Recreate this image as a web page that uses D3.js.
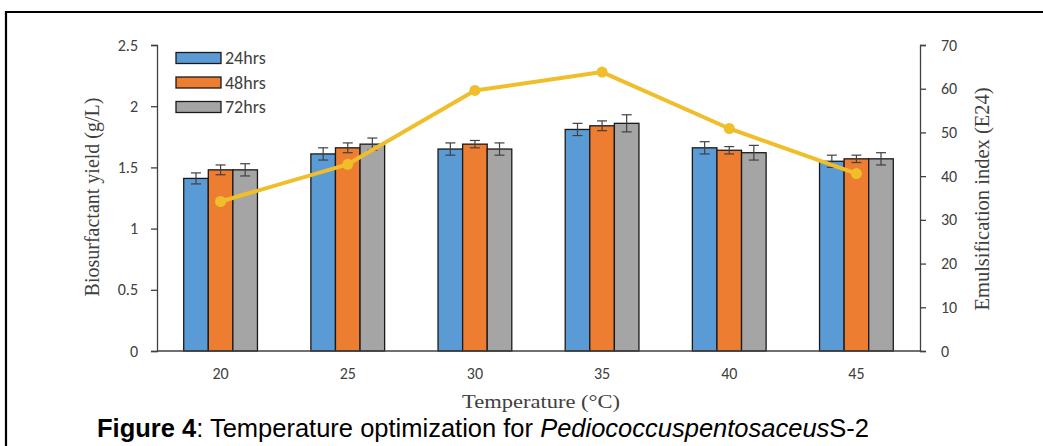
<!DOCTYPE html>
<html><head><meta charset="utf-8">
<script src="https://cdn.jsdelivr.net/npm/d3@7"></script>
<style>html,body{margin:0;padding:0;background:#fff}svg{display:block}</style>
</head><body>
<svg id="c" width="1043" height="446"></svg>
<script>
const categories = ["20","25","30","35","40","45"];
const seriesNames = ["24hrs","48hrs","72hrs"];
const yield24 = [1.41,1.61,1.65,1.81,1.66,1.55];
const yield48 = [1.48,1.66,1.69,1.84,1.64,1.57];
const yield72 = [1.48,1.69,1.65,1.86,1.62,1.57];
const err24 = [0.045,0.05,0.05,0.05,0.05,0.05];
const err48 = [0.04,0.04,0.03,0.04,0.03,0.03];
const err72 = [0.05,0.05,0.05,0.07,0.06,0.05];
const emulsification = [34.2,42.7,59.6,63.8,50.9,40.6];
const leftTicks = [0,0.5,1,1.5,2,2.5];
const rightTicks = [0,10,20,30,40,50,60,70];

const colors = ["#5B9BD5","#ED7D31","#A5A5A5"];
const lineColor = "#F0BE2A";
const series = [yield24,yield48,yield72];
const errs = [err24,err48,err72];

const svg = d3.select("#c");
const L = 157, R = 920, T = 45, B = 351;

// frame
svg.append("path").attr("d",`M6,1000 V12 H1100`).attr("fill","none").attr("stroke","#000").attr("stroke-width",2.2);

const x = d3.scaleBand().domain(categories).range([L,R]).paddingInner(0.42).paddingOuter(0.21);
const xs = d3.scaleBand().domain(seriesNames).range([0,x.bandwidth()]);
const yL = d3.scaleLinear().domain([0,2.5]).range([B,T]);
const yR = d3.scaleLinear().domain([0,70]).range([B,T]);

const tickFont = "Carlito, Lato, 'Open Sans', sans-serif";

// left axis
const gl = svg.append("g").attr("transform",`translate(${L},0)`)
  .call(d3.axisLeft(yL).tickValues(leftTicks).tickFormat(d=>String(d)).tickSize(6).tickPadding(13));
// right axis
const gr = svg.append("g").attr("transform",`translate(${R},0)`)
  .call(d3.axisRight(yR).tickValues(rightTicks).tickSize(6).tickPadding(15));
[gl,gr].forEach(g=>{
  g.select(".domain").attr("stroke","#404040").attr("stroke-width",1.3);
  g.selectAll(".tick line").attr("stroke","#404040").attr("stroke-width",1.3);
  g.selectAll(".tick text").attr("fill","#404040").style("font-family",tickFont).style("font-size","16px");
});

// bars
const groups = svg.append("g").selectAll("g").data(categories).join("g")
  .attr("transform",d=>`translate(${x(d)},0)`);
seriesNames.forEach((s,si)=>{
  groups.append("rect")
    .attr("x",xs(s)).attr("width",xs.bandwidth())
    .attr("y",(d,i)=>yL(series[si][i])).attr("height",(d,i)=>B-yL(series[si][i]))
    .attr("fill",colors[si]).attr("stroke","#1a1a1a").attr("stroke-width",1.3);
});
// error bars
seriesNames.forEach((s,si)=>{
  const cx = xs(s)+xs.bandwidth()/2;
  groups.each(function(d,i){
    const v = series[si][i], e = errs[si][i];
    const g = d3.select(this);
    g.append("line").attr("x1",cx).attr("x2",cx).attr("y1",yL(v+e)).attr("y2",yL(v-e)).attr("stroke","#404040").attr("stroke-width",1.2);
    [v+e,v-e].forEach(w=>g.append("line").attr("x1",cx-5).attr("x2",cx+5).attr("y1",yL(w)).attr("y2",yL(w)).attr("stroke","#404040").attr("stroke-width",1.2));
  });
});

// x axis line
svg.append("line").attr("x1",L).attr("x2",R).attr("y1",B).attr("y2",B).attr("stroke","#404040").attr("stroke-width",1.3);
svg.append("g").selectAll("text").data(categories).join("text")
  .attr("x",d=>x(d)+x.bandwidth()/2).attr("y",B+28).attr("text-anchor","middle")
  .attr("fill","#404040").style("font-family",tickFont).style("font-size","16px").text(d=>d);

// line series
const line = d3.line().x((d,i)=>x(categories[i])+x.bandwidth()/2).y(d=>yR(d));
svg.append("path").datum(emulsification).attr("d",line).attr("fill","none")
  .attr("stroke",lineColor).attr("stroke-width",4).attr("stroke-linejoin","round");
svg.append("g").selectAll("circle").data(emulsification).join("circle")
  .attr("cx",(d,i)=>x(categories[i])+x.bandwidth()/2).attr("cy",d=>yR(d)).attr("r",5.5).attr("fill",lineColor);

// legend
const lg = svg.append("g").attr("transform","translate(176,52.5)");
seriesNames.forEach((s,i)=>{
  lg.append("rect").attr("x",0).attr("y",i*24.5).attr("width",45).attr("height",11)
    .attr("fill",colors[i]).attr("stroke","#1a1a1a").attr("stroke-width",1.3);
  lg.append("text").attr("x",49).attr("y",i*24.5+11.5).attr("fill","#404040")
    .style("font-family",tickFont).style("font-size","18px").text(s);
});

// axis titles
const serif = "'Liberation Serif','DejaVu Serif',serif";
svg.append("text").attr("transform",`translate(99,197) rotate(-90)`).attr("text-anchor","middle")
  .attr("fill","#404040").style("font-family",serif).style("font-size","20px").text("Biosurfactant yield (g/L)");
svg.append("text").attr("transform",`translate(989,199) rotate(-90)`).attr("text-anchor","middle")
  .attr("fill","#404040").style("font-family",serif).style("font-size","20.5px").text("Emulsification index (E24)");
svg.append("text").attr("x",541).attr("y",408).attr("text-anchor","middle")
  .attr("fill","#404040").style("font-family",serif).style("font-size","19px")
  .attr("textLength",158).attr("lengthAdjust","spacingAndGlyphs").text("Temperature (°C)");

// caption
const cap = svg.append("text").attr("x",97).attr("y",437).attr("fill","#000")
  .style("font-family","'Liberation Sans',Arial,sans-serif").style("font-size","25.5px");
cap.append("tspan").style("font-weight","bold").text("Figure 4");
cap.append("tspan").text(": Temperature optimization for ");
cap.append("tspan").style("font-style","italic").text("Pediococcuspentosaceus");
cap.append("tspan").text("S-2");
</script>
</body></html>
